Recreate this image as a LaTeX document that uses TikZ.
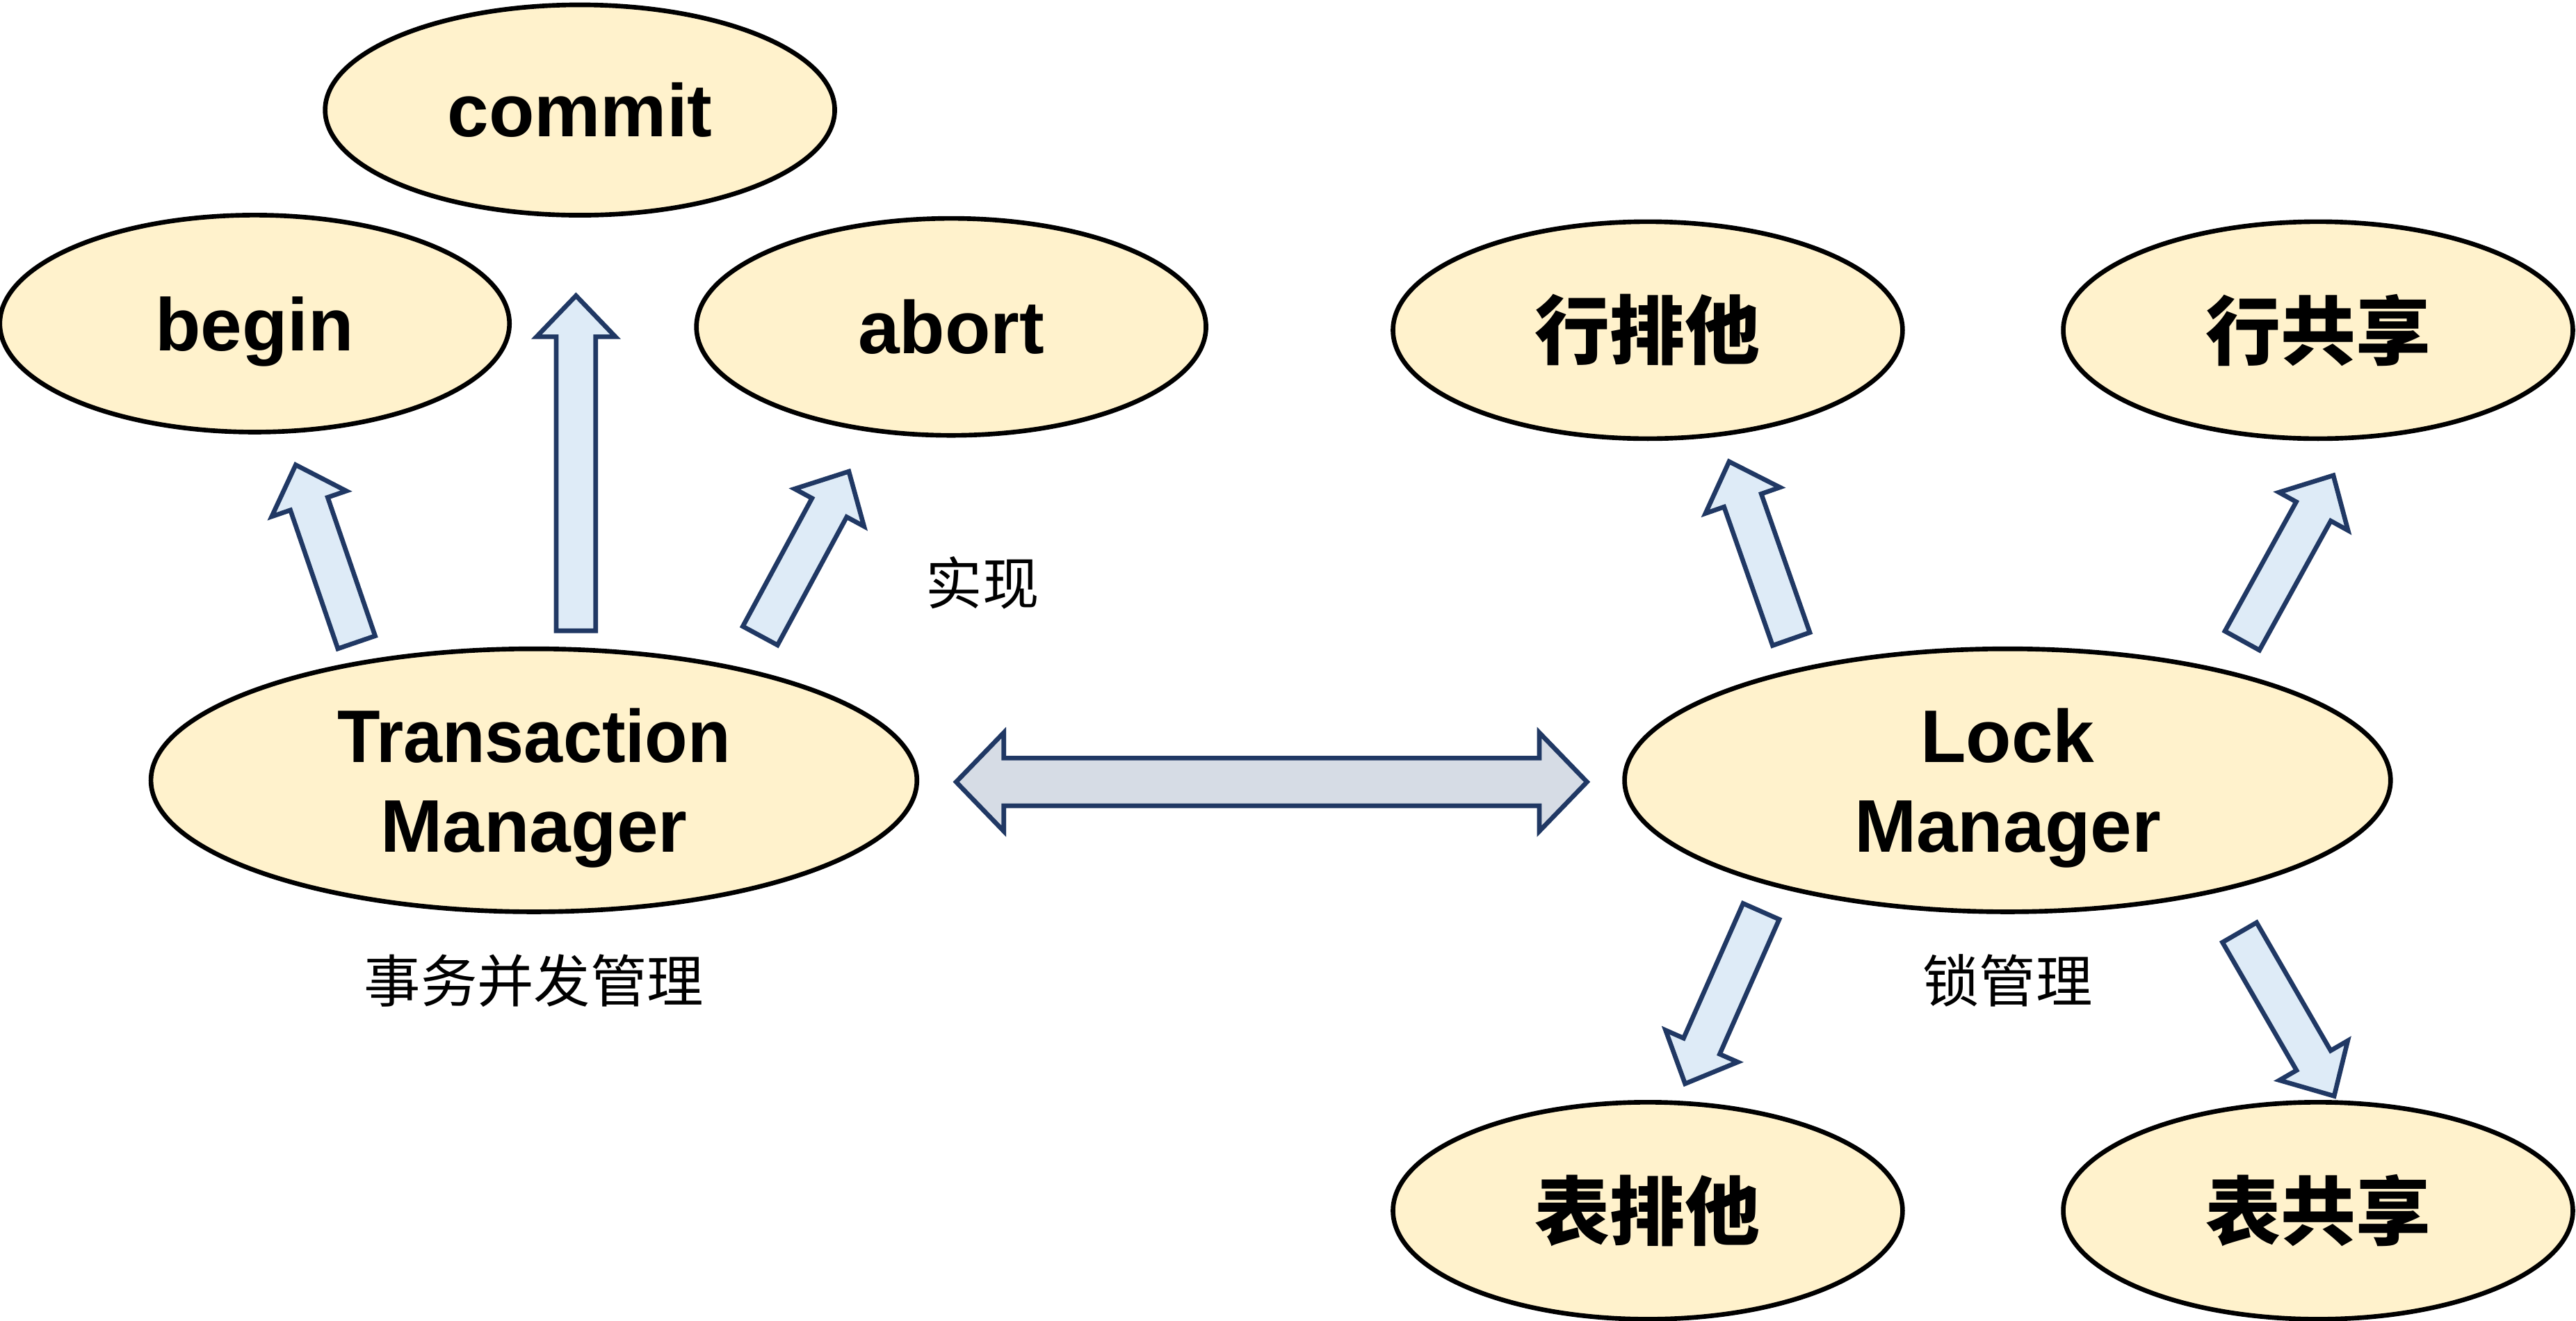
\documentclass[tikz,border=0pt]{standalone}
\usepackage{fontspec}
\setmainfont{Liberation Sans}
\newfontfamily\cjk{Noto Sans CJK SC}
\usetikzlibrary{calc,shapes.geometric}
\definecolor{ovalfill}{HTML}{FFF2CC}
\definecolor{arrowfill}{HTML}{DEEBF7}
\definecolor{linkfill}{HTML}{D6DCE5}
\definecolor{arrowline}{HTML}{203864}
\tikzset{
  oval/.style={ellipse,draw=black,line width=0.8pt,fill=ovalfill,inner sep=0pt,
    minimum width=3.1cm,minimum height=1.32cm,font=\fontsize{12.9}{15.6}\selectfont\bfseries,align=center},
  bigoval/.style={oval,minimum width=4.66cm,minimum height=1.6cm,text depth=0pt},
  cjkbold/.style={font=\fontsize{13}{15}\selectfont\cjk\bfseries},
  note/.style={font=\fontsize{9.8}{12}\selectfont\cjk,inner sep=0pt},
  blockarrow/.style={draw=arrowline,line width=0.8pt,fill=arrowfill,line join=miter}
}
% block arrow from #2 to #3
\newcommand{\blockarrow}[3][]{%
  \coordinate (hb) at ($(#3)!0.25cm!(#2)$);
  \draw[blockarrow,#1] ($(#2)!0.12cm!90:(#3)$)--($(hb)!0.12cm!90:(#3)$)--($(hb)!0.24cm!90:(#3)$)--(#3)
    --($(hb)!0.24cm!-90:(#3)$)--($(hb)!0.12cm!-90:(#3)$)--($(#2)!0.12cm!-90:(#3)$)--cycle;}
\begin{document}
\begin{tikzpicture}[x=0.01cm,y=0.01cm]
        \useasboundingbox (0,0) rectangle (1568,804);
        % Transaction side
        \node[oval,minimum height=1.28cm](commit) at (353,737){commit};
        \node[oval,text depth=0pt](begin) at (155,607){begin};
        \node[oval](abort) at (579,605){abort};
        \node[bigoval](tm) at (325,329){\scalebox{0.94}[1]{Transaction}\\Manager};
        % Lock side
        \node[oval,cjkbold](rowx) at (1003,603){行排他};
        \node[oval,cjkbold](rows) at (1411,603){行共享};
        \node[bigoval](lm) at (1222,329){Lock\\Manager};
        \node[oval,cjkbold](tabx) at (1003,67){表排他};
        \node[oval,cjkbold](tabs) at (1411,67){表共享};
        % Notes
        \node[note](impl) at (598,449){实现};
        \node[note](tmnote) at (325,207){事务并发管理};
        \node[note](lmnote) at (1222,207){锁管理};
        % Arrow ends
        \coordinate (tm-b1) at (217,413);   \coordinate (tm-b2) at (180,521);
        \coordinate (tm-c1) at (350.6,420); \coordinate (tm-c2) at (350.6,624);
        \coordinate (tm-a1) at (462.7,417); \coordinate (tm-a2) at (516.7,517);
        \coordinate (lm-rx1) at (1090.3,415); \coordinate (lm-rx2) at (1052.5,523);
        \coordinate (lm-rs1) at (1364.8,414); \coordinate (lm-rs2) at (1420.3,514.6);
        \coordinate (lm-tx1) at (1072,249.2); \coordinate (lm-tx2) at (1025.7,144.3);
        \coordinate (lm-ts1) at (1363.2,236.4); \coordinate (lm-ts2) at (1420.8,136.8);
        % Block arrows
        \blockarrow{tm-b1}{tm-b2}
        \blockarrow{tm-c1}{tm-c2}
        \blockarrow{tm-a1}{tm-a2}
        \blockarrow{lm-rx1}{lm-rx2}
        \blockarrow{lm-rs1}{lm-rs2}
        \blockarrow{lm-tx1}{lm-tx2}
        \blockarrow{lm-ts1}{lm-ts2}
        % Link between managers
        \coordinate (link1) at (582,328);
        \coordinate (link2) at (966,328);
        \coordinate (lh1) at ($(link1)+(29,0)$);
        \coordinate (lh2) at ($(link2)+(-29,0)$);
        \draw[blockarrow,fill=linkfill](link1)--($(lh1)+(0,30)$)--($(lh1)+(0,14.5)$)--($(lh2)+(0,14.5)$)--($(lh2)+(0,30)$)
          --(link2)--($(lh2)+(0,-30)$)--($(lh2)+(0,-14.5)$)--($(lh1)+(0,-14.5)$)--($(lh1)+(0,-30)$)--cycle;
    \end{tikzpicture}
\end{document}
